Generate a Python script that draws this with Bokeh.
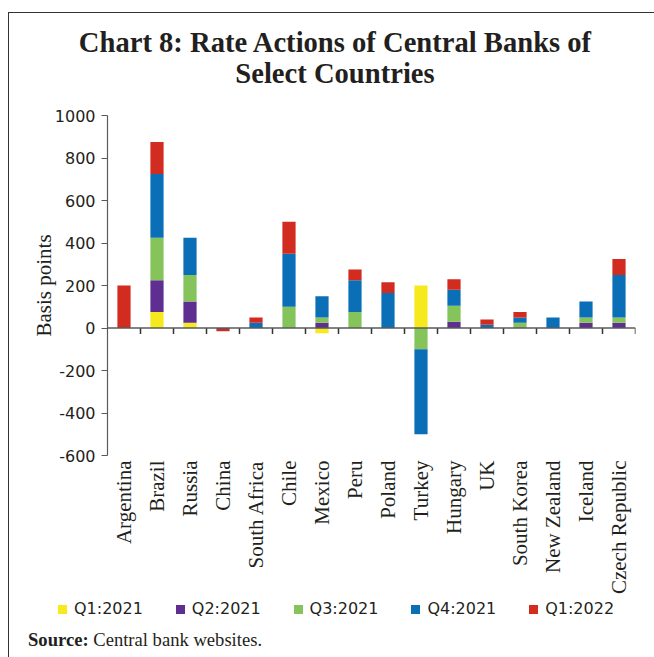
import math
from bokeh.plotting import figure
from bokeh.layouts import column
from bokeh.models import Range1d, FixedTicker, Span, Div, ColumnDataSource
from bokeh.embed import file_html
from bokeh.resources import INLINE

# ---------------- data ----------------
countries = ["Argentina", "Brazil", "Russia", "China", "South Africa", "Chile",
             "Mexico", "Peru", "Poland", "Turkey", "Hungary", "UK",
             "South Korea", "New Zealand", "Iceland", "Czech Republic"]
q1_2021 = [0, 75, 25, 0, 0, 0, -25, 0, 0, 200, 0, 0, 0, 0, 0, 0]
q2_2021 = [0, 150, 100, 0, 0, 0, 25, 0, 0, 0, 30, 0, 0, 0, 25, 25]
q3_2021 = [0, 200, 125, 0, 0, 100, 25, 75, 0, -100, 75, 0, 25, 0, 25, 25]
q4_2021 = [0, 300, 175, -5, 25, 250, 100, 150, 165, -400, 75, 15, 25, 50, 75, 200]
q1_2022 = [200, 150, 0, -10, 25, 150, 0, 50, 50, 0, 50, 25, 25, 0, 0, 75]
series_names = ["Q1:2021", "Q2:2021", "Q3:2021", "Q4:2021", "Q1:2022"]
y_ticks = [-600, -400, -200, 0, 200, 400, 600, 800, 1000]
title_line1 = "Chart 8: Rate Actions of Central Banks of"
title_line2 = "Select Countries"
source_label = "Source:"
source_text = "Central bank websites."

series_values = [q1_2021, q2_2021, q3_2021, q4_2021, q1_2022]
colors = ["#F6EA1F", "#5E2F91", "#84C45A", "#0B6FB7", "#D22B1F"]
TXT = "#231F20"
AXC = "#5a5a5a"
SERIF = "Liberation Serif"
SANS = "DejaVu Sans"

n = len(countries)
xs = [i + 0.5 for i in range(n)]
Y0, Y1 = -600, 1000

FRAME_H = 342
p = figure(width=645, height=494, x_range=Range1d(0, n), y_range=Range1d(Y0, Y1),
           output_backend="svg", toolbar_location=None,
           min_border_left=98, min_border_right=19, min_border_top=12,
           min_border_bottom=140, margin=0)
p.xgrid.visible = False
p.ygrid.visible = False
p.outline_line_color = None

# stacked bars: positives up from 0, negatives down from 0
pos = [0.0] * n
neg = [0.0] * n
for vals, col in zip(series_values, colors):
    bottoms, tops = [], []
    for i, v in enumerate(vals):
        if v >= 0:
            bottoms.append(pos[i]); tops.append(pos[i] + v); pos[i] += v
        else:
            bottoms.append(neg[i]); tops.append(neg[i] + v); neg[i] += v
    src = ColumnDataSource(dict(x=xs, top=tops, bottom=bottoms))
    p.vbar(x="x", top="top", bottom="bottom", width=0.4, source=src,
           fill_color=col, line_color=None)

# zero line and category boundary ticks
p.add_layout(Span(location=0, dimension="width", line_color=AXC, line_width=1.5))
tick_len = 6 * (Y1 - Y0) / FRAME_H
bounds = list(range(1, n + 1))
p.segment(x0=bounds, x1=bounds, y0=[0] * n, y1=[-tick_len] * n,
          line_color="#333333", line_width=1.5)

# y axis
ya = p.yaxis[0]
ya.ticker = FixedTicker(ticks=y_ticks)
ya.major_label_overrides = {t: str(t) for t in y_ticks}
ya.minor_tick_line_color = None
ya.major_tick_out = 6
ya.major_tick_in = 0
ya.axis_line_color = AXC
ya.major_tick_line_color = AXC
ya.axis_line_width = 1.2
ya.major_label_text_font = SANS
ya.major_label_text_font_size = "16px"
ya.major_label_text_color = TXT
ya.major_label_standoff = 6
ya.axis_label = "Basis points"
ya.axis_label_text_font = SERIF
ya.axis_label_text_font_style = "normal"
ya.axis_label_text_font_size = "21px"
ya.axis_label_text_color = TXT
ya.axis_label_standoff = -4

# category labels at the bottom
xa = p.xaxis[0]
xa.ticker = FixedTicker(ticks=xs)
xa.major_label_overrides = {x: c for x, c in zip(xs, countries)}
xa.major_label_orientation = math.pi / 2
xa.axis_line_color = None
xa.major_tick_line_color = None
xa.minor_tick_line_color = None
xa.major_tick_out = 0
xa.major_tick_in = 0
xa.major_label_text_font = SERIF
xa.major_label_text_font_size = "21px"
xa.major_label_text_color = TXT
xa.major_label_standoff = 5

# legend row (HTML), items spaced evenly
ITEM_W = 117.8
items_html = ""
for i, (nm, c) in enumerate(zip(series_names, colors)):
    x0 = 49 + i * ITEM_W
    items_html += (f'<span style="position:absolute;left:{x0:.1f}px;top:8px;width:9px;height:9px;'
                   f'background:{c};"></span>'
                   f'<span style="position:absolute;left:{x0 + 16:.1f}px;top:2px;'
                   f'font-family:\'{SANS}\';font-size:16px;line-height:20px;color:{TXT};'
                   f'white-space:nowrap;">{nm}</span>')
legend_div = Div(
    text=f'<div style="position:relative;width:645px;height:25px;">{items_html}</div>',
    width=645, height=25, margin=0)

title_div = Div(
    text=(f'<div style="box-sizing:border-box;width:645px;font-family:\'{SERIF}\';'
          f'font-weight:bold;font-size:28.6px;line-height:31px;color:{TXT};text-align:center;'
          f'padding-top:14px;padding-left:7px;white-space:nowrap;">'
          f'{title_line1}<br>{title_line2}</div>'),
    width=645, height=90, margin=0)
source_div = Div(
    text=(f'<div style="font-family:\'{SERIF}\';font-size:18.6px;line-height:20px;'
          f'color:{TXT};padding-top:8px;padding-left:19px;white-space:nowrap;">'
          f'<b>{source_label}</b> {source_text}</div>'),
    width=645, height=35, margin=0)

layout = column(title_div, p, legend_div, source_div, margin=(12, 0, 0, 8), spacing=0,
                styles={"border-top": "1.3px solid #333333",
                        "border-left": "1.3px solid #333333"})

open("out.html", "w").write(file_html(layout, INLINE))
